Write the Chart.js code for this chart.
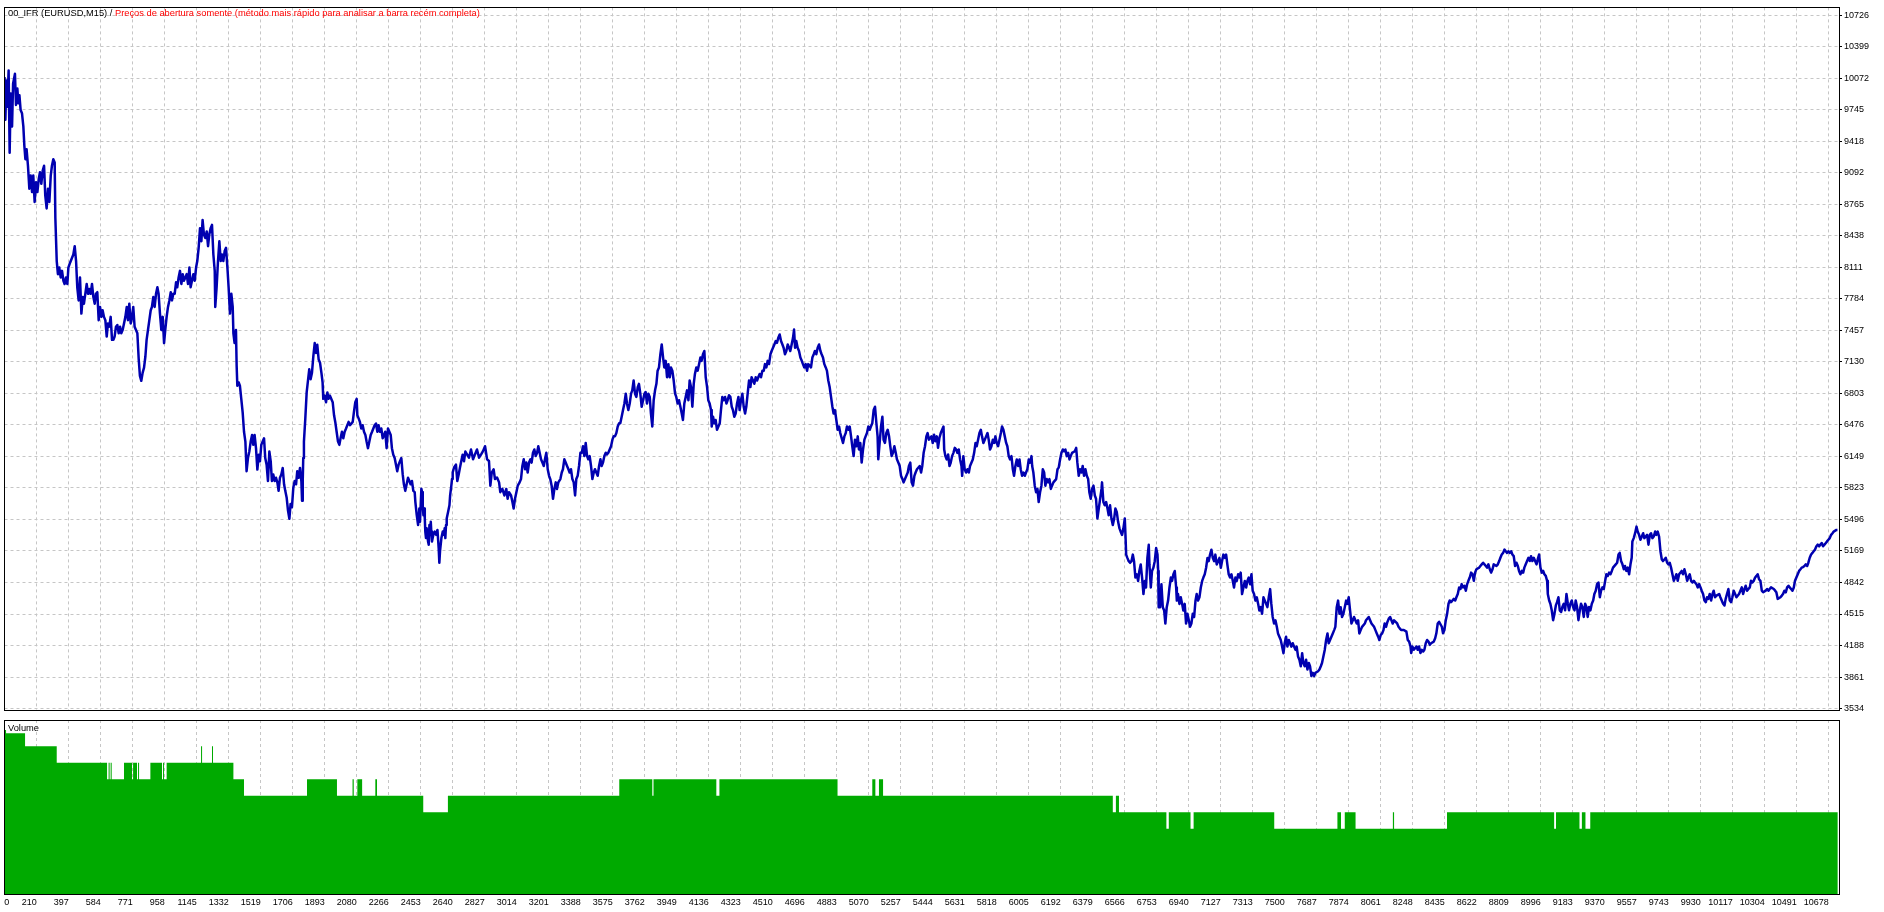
<!DOCTYPE html>
<html>
<head>
<meta charset="utf-8">
<title>00_IFR (EURUSD,M15)</title>
<script src="https://cdn.jsdelivr.net/npm/chart.js@4.4.1/dist/chart.umd.min.js"></script>
<style>
  html, body { margin: 0; padding: 0; background: #fff; }
  #wrap { position: relative; width: 1884px; height: 912px; overflow: hidden; }
  canvas { position: absolute; left: 0; }
  #balanceChart { top: 0; }
  #volumeChart { top: 718px; }
  .lbl { position: absolute; font: 9.3px "Liberation Sans", Arial, sans-serif; line-height: 12px; white-space: nowrap; }
</style>
</head>
<body>
<div id="wrap">
  <canvas id="balanceChart" width="1884" height="718"></canvas>
  <canvas id="volumeChart" width="1884" height="194"></canvas>
  <div class="lbl" style="left:8px;top:7px;"><span style="color:#000">00_IFR (EURUSD,M15) /</span> <span style="color:#ff0000">Preços de abertura somente (método mais rápido para analisar a barra recém completa)</span></div>
  <div class="lbl" style="left:8px;top:722px;color:#000">Volume</div>
</div>
<script>
// x axis labels (trade number)
const xTicks = [0,210,397,584,771,958,1145,1332,1519,1706,1893,2080,2266,2453,2640,2827,3014,3201,3388,3575,
  3762,3949,4136,4323,4510,4696,4883,5070,5257,5444,5631,5818,6005,6192,6379,6566,6753,6940,7127,7313,
  7500,7687,7874,8061,8248,8435,8622,8809,8996,9183,9370,9557,9743,9930,10117,10304,10491,10678];

// balance axis labels
const yTicks = [10726,10399,10072,9745,9418,9092,8765,8438,8111,7784,7457,7130,6803,6476,6149,5823,5496,5169,4842,4515,4188,3861,3534];

// visible ranges
const xRange = [21.9, 10738];
const balanceRange = [3513.5, 10805];
const volumeRange = [0, 0.106];

// balance curve
const tradeNo = [
  22,27,33,38,46,52,58,66,72,83,
  89,97,103,109,116,124,132,138,144,151,
  159,167,175,183,190,198,206,214,222,229,
  237,245,253,260,268,276,284,292,299,307,
  315,319,327,334,342,350,358,366,373,381,
  389,395,405,424,432,440,447,455,463,471,
  479,486,494,502,510,517,525,533,541,549,
  556,564,572,580,588,595,603,611,619,626,
  634,642,650,658,665,673,681,689,697,704,
  712,720,728,736,743,751,759,767,774,782,
  790,798,806,813,821,829,837,845,852,860,
  868,876,883,891,899,907,915,922,930,938,
  946,954,961,969,977,985,993,1000,1008,1016,
  1024,1031,1039,1047,1055,1063,1070,1078,1086,1094,
  1102,1109,1117,1125,1133,1141,1148,1156,1164,1172,
  1179,1187,1195,1203,1211,1218,1226,1234,1242,1250,
  1253,1261,1269,1277,1285,1292,1300,1308,1316,1324,
  1331,1339,1347,1355,1359,1366,1374,1378,1382,1390,
  1397,1405,1413,1421,1429,1436,1444,1452,1460,1468,
  1475,1483,1491,1499,1507,1514,1522,1530,1538,1545,
  1553,1561,1569,1577,1584,1592,1600,1608,1616,1623,
  1631,1639,1647,1655,1662,1670,1678,1686,1693,1701,
  1709,1717,1725,1732,1740,1748,1756,1760,1764,1767,
  1771,1779,1787,1802,1810,1818,1826,1834,1841,1849,
  1857,1865,1873,1880,1884,1892,1900,1908,1915,1923,
  1939,1947,1954,1962,1970,1978,1985,1993,2001,2009,
  2017,2032,2040,2056,2063,2071,2079,2083,2091,2098,
  2106,2114,2122,2130,2137,2145,2161,2169,2184,2192,
  2200,2207,2215,2223,2231,2239,2246,2254,2262,2278,
  2285,2293,2301,2316,2324,2332,2340,2348,2355,2363,
  2371,2379,2387,2394,2402,2410,2418,2422,2430,2438,
  2445,2449,2453,2457,2461,2465,2469,2473,2477,2480,
  2484,2488,2496,2500,2504,2508,2512,2515,2519,2523,
  2527,2535,2543,2551,2558,2562,2566,2574,2582,2589,
  2593,2597,2601,2605,2613,2621,2625,2632,2636,2640,
  2648,2659,2667,2675,2682,2690,2698,2706,2714,2735,
  2747,2759,2770,2782,2794,2806,2817,2829,2841,2852,
  2860,2868,2879,2887,2899,2911,2918,2930,2942,2953,
  2961,2969,2981,2989,2996,3004,3012,3020,3031,3039,
  3047,3055,3063,3070,3078,3086,3094,3101,3109,3117,
  3125,3133,3140,3148,3156,3164,3172,3179,3187,3195,
  3203,3210,3218,3226,3234,3242,3249,3257,3269,3277,
  3284,3292,3300,3308,3316,3323,3331,3339,3347,3355,
  3362,3370,3378,3386,3394,3401,3409,3417,3425,3432,
  3440,3448,3456,3464,3471,3479,3487,3495,3503,3510,
  3518,3526,3534,3541,3549,3557,3565,3573,3580,3588,
  3596,3604,3612,3619,3627,3635,3643,3651,3658,3666,
  3674,3682,3689,3697,3705,3713,3721,3728,3736,3744,
  3752,3760,3767,3775,3783,3791,3798,3806,3814,3822,
  3830,3837,3845,3853,3861,3869,3876,3884,3892,3900,
  3908,3915,3923,3931,3939,3946,3954,3962,3970,3978,
  3985,3993,4001,4009,4017,4024,4032,4040,4048,4055,
  4063,4071,4079,4087,4094,4102,4110,4118,4126,4133,
  4141,4149,4153,4161,4168,4176,4184,4192,4200,4207,
  4215,4223,4231,4239,4246,4254,4262,4270,4277,4285,
  4293,4301,4309,4316,4324,4332,4340,4348,4355,4363,
  4371,4379,4386,4394,4402,4410,4418,4425,4433,4441,
  4449,4457,4464,4472,4480,4488,4496,4503,4511,4519,
  4527,4534,4542,4550,4558,4566,4573,4581,4589,4597,
  4605,4612,4620,4628,4634,4640,4647,4655,4663,4671,
  4679,4686,4694,4702,4710,4717,4733,4741,4749,4756,
  4764,4772,4780,4788,4795,4803,4811,4819,4826,4834,
  4842,4850,4858,4865,4873,4881,4889,4897,4904,4920,
  4928,4936,4943,4951,4959,4967,4974,4982,4990,4998,
  5006,5013,5021,5029,5037,5045,5052,5060,5068,5076,
  5083,5091,5099,5107,5115,5122,5126,5134,5142,5150,
  5157,5165,5173,5181,5189,5196,5204,5212,5220,5228,
  5235,5243,5251,5259,5267,5274,5282,5290,5298,5305,
  5313,5321,5329,5337,5344,5352,5368,5376,5383,5391,
  5399,5407,5414,5422,5437,5444,5452,5460,5468,5475,
  5483,5491,5499,5507,5511,5518,5526,5534,5542,5549,
  5557,5565,5573,5581,5588,5596,5604,5612,5616,5623,
  5631,5639,5647,5655,5662,5670,5678,5686,5694,5701,
  5709,5717,5725,5732,5740,5748,5756,5764,5771,5779,
  5787,5795,5803,5810,5818,5826,5834,5842,5849,5857,
  5865,5873,5880,5888,5896,5904,5912,5919,5927,5935,
  5943,5951,5958,5966,5974,5982,5989,5997,6005,6013,
  6021,6025,6032,6040,6048,6056,6063,6071,6079,6087,
  6095,6102,6110,6118,6126,6134,6141,6149,6165,6173,
  6180,6188,6196,6204,6211,6219,6227,6235,6243,6250,
  6258,6274,6282,6289,6297,6305,6313,6320,6328,6336,
  6344,6352,6359,6367,6375,6383,6391,6398,6406,6414,
  6422,6430,6433,6441,6449,6457,6465,6472,6480,6488,
  6496,6504,6511,6519,6527,6535,6542,6550,6558,6566,
  6570,6574,6581,6589,6597,6605,6613,6620,6628,6636,
  6644,6651,6659,6667,6675,6683,6690,6698,6706,6710,
  6718,6725,6733,6741,6749,6757,6761,6764,6772,6780,
  6788,6796,6803,6811,6819,6827,6835,6842,6850,6858,
  6866,6870,6877,6885,6893,6901,6908,6916,6924,6932,
  6940,6947,6955,6963,6971,6979,6986,6994,7002,7010,
  7018,7025,7033,7041,7049,7056,7064,7072,7080,7088,
  7095,7103,7111,7119,7127,7134,7142,7150,7158,7165,
  7173,7181,7189,7197,7204,7212,7220,7228,7236,7243,
  7251,7259,7267,7275,7282,7290,7298,7306,7313,7321,
  7329,7337,7345,7352,7360,7368,7376,7384,7399,7407,
  7415,7422,7430,7438,7446,7454,7461,7469,7477,7485,
  7493,7500,7508,7516,7524,7532,7539,7547,7555,7563,
  7570,7578,7586,7594,7602,7609,7617,7625,7633,7641,
  7648,7656,7664,7672,7679,7695,7703,7711,7718,7726,
  7734,7742,7750,7757,7765,7773,7781,7789,7796,7804,
  7812,7820,7827,7835,7843,7851,7859,7866,7874,7882,
  7890,7898,7905,7921,7929,7936,7944,7952,7968,7975,
  7991,8007,8022,8030,8038,8046,8053,8061,8069,8077,
  8084,8092,8100,8108,8116,8131,8139,8157,8165,8172,
  8180,8196,8211,8219,8227,8235,8239,8246,8254,8262,
  8270,8277,8285,8293,8301,8309,8316,8324,8332,8340,
  8348,8355,8371,8379,8386,8394,8402,8418,8425,8433,
  8441,8449,8457,8464,8472,8480,8488,8496,8503,8511,
  8519,8527,8534,8542,8550,8558,8566,8573,8581,8589,
  8597,8605,8612,8620,8636,8643,8651,8659,8667,8675,
  8682,8690,8698,8706,8714,8721,8737,8745,8753,8760,
  8768,8776,8784,8791,8799,8807,8815,8823,8830,8838,
  8846,8854,8862,8869,8877,8885,8893,8900,8908,8916,
  8924,8932,8939,8947,8955,8963,8971,8978,8986,8994,
  9002,9010,9017,9025,9033,9037,9045,9052,9060,9068,
  9076,9084,9091,9099,9107,9115,9122,9130,9138,9146,
  9154,9161,9169,9177,9185,9193,9200,9208,9216,9224,
  9231,9239,9247,9255,9263,9270,9278,9286,9294,9302,
  9309,9317,9325,9333,9341,9348,9356,9364,9372,9379,
  9387,9395,9403,9411,9418,9434,9442,9450,9457,9465,
  9473,9481,9488,9496,9504,9512,9520,9527,9531,9539,
  9547,9555,9562,9570,9578,9586,9594,9601,9609,9617,
  9625,9633,9640,9648,9656,9664,9671,9679,9687,9695,
  9703,9710,9718,9726,9734,9742,9749,9757,9765,9773,
  9781,9788,9796,9804,9812,9819,9827,9835,9843,9851,
  9858,9866,9874,9882,9890,9897,9905,9913,9921,9929,
  9936,9944,9952,9960,9967,9975,9983,9991,9999,10006,
  10014,10022,10038,10045,10061,10069,10076,10084,10092,10100,
  10108,10115,10123,10131,10139,10154,10162,10170,10178,10186,
  10193,10201,10209,10217,10224,10232,10240,10248,10256,10263,
  10271,10279,10287,10295,10310,10318,10326,10333,10341,10357,
  10365,10372,10380,10396,10404,10411,10419,10427,10435,10443,
  10450,10458,10466,10474,10481,10489,10497,10505,10513,10520,
  10528,10536,10544,10552,10559,10567,10575,10583,10590,10598,
  10606,10614,10622,10629,10637,10645,10653,10661,10668,10676,
  10684,10692,10700,10707,10723,10729
];

const balance = [
  10082,9640,10048,9776,10150,9299,9912,9571,10014,10116,
  9793,9963,9810,9895,9742,9708,9571,9367,9231,9333,
  9163,8925,9061,8890,9061,8788,8993,8890,9027,9095,
  8976,9112,9163,8856,8720,8925,8788,9061,9163,9231,
  9197,8618,8175,8039,8107,8005,8073,7971,7937,8005,
  7937,8107,8158,8243,8329,8175,7903,7767,8005,7630,
  7801,7733,7835,7937,7835,7886,7835,7937,7801,7733,
  7835,7852,7562,7699,7596,7665,7596,7562,7392,7528,
  7494,7596,7358,7358,7392,7494,7511,7426,7494,7426,
  7460,7528,7596,7699,7562,7733,7528,7596,7699,7494,
  7460,7426,7154,6984,6933,7018,7069,7188,7358,7460,
  7562,7665,7699,7801,7699,7835,7903,7835,7630,7460,
  7596,7324,7460,7596,7699,7767,7852,7767,7835,7835,
  7954,7903,8005,8073,7937,8039,7971,8005,8039,7937,
  8107,7903,7971,8039,7971,8107,8175,8312,8516,8380,
  8601,8448,8414,8482,8329,8448,8516,8550,8243,8073,
  7699,7903,8175,8380,8175,8243,8175,8278,8312,8107,
  7903,7630,7835,7699,7426,7324,7460,7086,6882,6916,
  6882,6746,6609,6405,6303,5996,6132,6200,6303,6371,
  6269,6371,6235,6013,6166,6098,6269,6303,6337,6132,
  6064,5894,6200,6098,5894,5962,5894,5928,5877,5792,
  5928,5962,6030,5860,5792,5724,5588,5502,5656,5622,
  5826,5894,5860,5996,5928,6030,5894,5690,5894,6132,
  6303,6541,6813,7052,6950,7018,7188,7324,7222,7307,
  7154,7120,7018,6916,6746,6779,6711,6813,6746,6779,
  6711,6575,6507,6405,6303,6269,6337,6405,6337,6405,
  6439,6507,6473,6507,6609,6711,6746,6575,6541,6507,
  6439,6473,6405,6371,6303,6235,6371,6405,6473,6490,
  6405,6473,6405,6439,6337,6371,6405,6235,6439,6371,
  6235,6166,6132,5996,6064,6098,6132,5962,5860,5792,
  5860,5928,5894,5860,5894,5792,5779,5676,5540,5438,
  5608,5472,5642,5813,5779,5642,5540,5608,5506,5370,
  5302,5404,5268,5234,5438,5370,5472,5370,5268,5302,
  5336,5370,5336,5387,5200,5046,5166,5302,5370,5336,
  5404,5302,5438,5506,5574,5642,5745,5847,5915,5983,
  6034,6064,5894,5962,6030,6098,6166,6098,6200,6136,
  6221,6119,6170,6221,6136,6170,6204,6255,6119,6102,
  5846,5982,6016,5914,5931,5880,5778,5812,5744,5812,
  5710,5778,5744,5676,5608,5710,5778,5846,5880,5914,
  6050,6119,6016,6085,5982,6085,6119,6085,6187,6221,
  6153,6187,6255,6187,6119,6085,6050,6119,6187,6016,
  5948,5914,5846,5710,5812,5880,5812,5880,5914,5982,
  6016,6119,6085,6050,6016,5982,6016,5914,5880,5744,
  5914,5948,6050,6187,6187,6255,6153,6289,6153,6119,
  6153,6050,5914,5982,6016,5982,5948,6050,6119,6050,
  6085,6153,6187,6170,6187,6221,6255,6323,6357,6357,
  6391,6459,6493,6493,6561,6630,6698,6800,6698,6630,
  6698,6800,6834,6936,6800,6766,6868,6902,6800,6664,
  6732,6800,6817,6698,6800,6766,6595,6459,6732,6834,
  6902,7038,7072,7208,7310,7174,7072,7140,6970,7106,
  6970,7072,7038,6936,6800,6766,6698,6732,6664,6595,
  6527,6698,6766,6834,6732,6936,6868,6664,6902,7004,
  7072,7038,7106,7174,7140,7208,7242,6970,6868,6732,
  6698,6630,6459,6561,6493,6527,6425,6459,6493,6630,
  6766,6732,6766,6698,6732,6783,6766,6664,6630,6561,
  6595,6698,6766,6630,6732,6800,6664,6595,6664,6800,
  6936,6868,6970,6936,6902,6970,6936,6970,7004,6970,
  7038,7038,7106,7072,7140,7106,7208,7242,7276,7310,
  7345,7327,7379,7413,7345,7310,7276,7208,7242,7310,
  7276,7242,7310,7379,7464,7276,7345,7276,7242,7174,
  7140,7106,7072,7106,7038,7106,7072,7174,7208,7242,
  7208,7276,7310,7242,7208,7174,7106,7072,7038,6936,
  6868,6766,6664,6595,6630,6527,6425,6459,6391,6289,
  6357,6391,6459,6425,6459,6357,6255,6153,6323,6255,
  6357,6221,6289,6085,6221,6323,6357,6391,6459,6425,
  6459,6493,6630,6664,6493,6357,6119,6289,6459,6561,
  6323,6289,6391,6425,6357,6255,6153,6187,6255,6187,
  6119,6085,6050,5948,5914,5880,5914,5948,5982,6050,
  6085,5880,5846,5948,5982,6016,6050,5982,6050,6187,
  6255,6357,6391,6323,6357,6289,6374,6306,6357,6238,
  6340,6391,6425,6459,6221,6152,6118,6169,6050,6084,
  6152,6186,6238,6221,6186,6221,6118,6050,5948,6152,
  6016,5982,6016,5982,6050,6084,6118,6186,6289,6255,
  6323,6391,6425,6357,6289,6323,6357,6391,6323,6221,
  6255,6323,6289,6357,6289,6255,6323,6391,6459,6425,
  6357,6289,6255,6152,6118,6152,6016,5948,6050,6118,
  6050,6118,6016,5948,5982,5948,5982,6016,6118,6084,
  6152,6050,5982,5846,5778,5812,5676,5778,5846,6016,
  5982,5846,5914,5880,5914,5812,5846,5880,5914,6016,
  6033,6118,6186,6221,6203,6221,6152,6186,6118,6152,
  6186,6203,6238,6084,5948,6016,5982,6050,5948,6016,
  5948,5914,5778,5710,5812,5846,5744,5710,5505,5608,
  5710,5812,5880,5676,5642,5676,5608,5540,5642,5505,
  5437,5505,5608,5574,5471,5403,5369,5335,5403,5505,
  5335,5131,5097,5063,5046,5063,5131,5063,4893,4927,
  4858,4961,5029,4893,4722,4858,4790,5097,5233,5029,
  4790,4961,4995,5063,5199,5131,4961,4586,4586,4824,
  4586,4552,4416,4586,4654,4790,4893,4858,4927,4961,
  4790,4654,4722,4620,4688,4620,4552,4620,4416,4518,
  4450,4382,4416,4518,4484,4654,4722,4654,4688,4790,
  4858,4893,4927,4995,5097,5063,5131,5182,5097,5063,
  5131,5029,5063,5097,4995,5063,5131,5097,5131,5029,
  4927,4893,4927,4858,4790,4893,4858,4927,4893,4944,
  4722,4790,4858,4790,4858,4893,4824,4927,4756,4722,
  4654,4688,4620,4552,4586,4518,4688,4654,4586,4688,
  4773,4620,4484,4416,4450,4382,4314,4280,4246,4177,
  4109,4212,4280,4177,4246,4212,4177,4212,4177,4143,
  4177,4075,4041,3973,4109,4007,3973,4041,3939,4007,
  3973,3871,3905,3871,3905,3922,3939,3973,4007,4075,
  4143,4246,4314,4212,4246,4280,4314,4348,4382,4586,
  4654,4518,4586,4484,4518,4586,4654,4620,4688,4552,
  4416,4450,4484,4416,4450,4314,4348,4382,4416,4450,
  4484,4416,4382,4348,4314,4280,4246,4297,4314,4348,
  4416,4382,4433,4467,4484,4416,4450,4417,4383,4366,
  4349,4349,4332,4246,4229,4178,4110,4178,4144,4161,
  4178,4144,4178,4110,4144,4127,4144,4212,4246,4229,
  4195,4212,4229,4263,4315,4417,4434,4383,4315,4349,
  4451,4519,4621,4655,4638,4655,4672,4655,4689,4723,
  4791,4774,4825,4791,4808,4757,4825,4859,4893,4944,
  4927,4859,4944,4979,4996,5013,5030,5047,5030,5013,
  4996,5030,4979,4944,4979,5030,5013,5030,5064,5098,
  5132,5149,5183,5166,5149,5166,5149,5166,5132,5115,
  5013,5047,5013,4962,4927,4962,4944,4996,5030,5064,
  5098,5064,5115,5064,5098,5064,5030,5081,5132,4996,
  4944,4962,4927,4910,4859,4723,4655,4621,4553,4451,
  4519,4604,4638,4689,4553,4536,4587,4621,4553,4723,
  4621,4553,4621,4655,4587,4553,4655,4587,4451,4553,
  4621,4587,4485,4621,4587,4485,4587,4553,4621,4655,
  4723,4757,4825,4842,4689,4757,4791,4774,4859,4927,
  4910,4944,4927,4962,4996,5030,5047,5132,5149,5064,
  5030,4979,5013,4962,4996,4927,5030,5098,5268,5302,
  5353,5421,5370,5336,5285,5319,5353,5302,5319,5336,
  5234,5336,5353,5302,5319,5370,5336,5370,5319,5166,
  5081,5064,5081,5098,5047,5030,5047,4996,4927,4859,
  4893,4927,4859,4927,4944,4962,4927,4979,4927,4859,
  4893,4927,4859,4842,4859,4842,4825,4791,4825,4791,
  4757,4723,4655,4638,4689,4672,4723,4655,4723,4757,
  4689,4706,4723,4689,4621,4604,4672,4723,4774,4655,
  4638,4689,4757,4723,4689,4723,4757,4791,4723,4774,
  4808,4757,4774,4791,4859,4842,4859,4893,4910,4927,
  4876,4859,4757,4740,4757,4774,4757,4774,4791,4774,
  4757,4740,4672,4689,4706,4723,4757,4740,4791,4808,
  4791,4774,4757,4791,4859,4893,4927,4962,4979,4996,
  5002,5013,5030,5013,5047,5098,5132,5149,5166,5183,
  5217,5234,5217,5234,5251,5217,5234,5251,5268,5285,
  5302,5336,5353,5370,5387,5387
];

// volume (lots): each value holds from its trade number up to the next one
const volTradeNo = [22,31,142,327,621,630,636,642,648,720,767,773,796,802,808,874,942,948,954,969,
  1170,1176,1234,1240,1359,1421,1789,1964,2055,2062,2083,2111,2188,2198,2468,2612,3613,3806,3813,4180,
  4198,4888,5091,5109,5130,5154,6496,6514,6532,6809,6823,6950,6968,7439,7808,7829,7851,7914,8132,8139,
  8448,9074,9085,9222,9236,9257,9285,10731];
const volLots = [0.1,0.098,0.09,0.08,0.07,0.08,0.07,0.08,0.07,0.08,0.07,0.08,0.07,0.08,0.07,0.08,0.07,0.08,0.07,0.08,
  0.09,0.08,0.09,0.08,0.07,0.06,0.07,0.06,0.07,0.06,0.07,0.06,0.07,0.06,0.05,0.06,0.07,0.06,0.07,0.06,
  0.07,0.06,0.07,0.06,0.07,0.06,0.05,0.06,0.05,0.04,0.05,0.04,0.05,0.04,0.05,0.04,0.05,0.04,0.05,0.04,
  0.05,0.04,0.05,0.04,0.05,0.04,0.05,0.05];

const gridColor = '#c6c6c6';
const font = { family: '"Liberation Sans", Arial, sans-serif', size: 9 };

// black frame round each pane
const frame = {
  id: 'frame',
  afterDraw(chart) {
    const { ctx, chartArea: a } = chart;
    const l = Math.floor(a.left) + 0.5, t = Math.floor(a.top) + 0.5;
    const r = Math.floor(a.right) + 0.5, b = Math.floor(a.bottom) + 0.5;
    ctx.save();
    ctx.strokeStyle = '#000';
    ctx.lineWidth = 1;
    ctx.strokeRect(l, t, r - l, b - t);
    ctx.restore();
  }
};

function xScale(withLabels) {
  return {
    type: 'linear',
    min: xRange[0],
    max: xRange[1],
    afterBuildTicks(scale) {
      const vals = withLabels ? xTicks : xTicks.slice(1);
      // the "0" label sits against the left edge
      scale.ticks = vals.map(v => ({ value: v < scale.min ? scale.min + 28 : v }));
    },
    afterFit(scale) {
      scale.height = withLabels ? 17.5 : 0;
      scale.paddingLeft = 0;
      scale.paddingRight = 0;
    },
    ticks: {
      display: withLabels,
      autoSkip: false,
      maxRotation: 0,
      minRotation: 0,
      align: 'end',
      padding: 3,
      color: '#000',
      font: font,
      callback: (v, i) => withLabels ? String(xTicks[i]) : ''
    },
    grid: {
      color: c => (withLabels && c.index === 0) ? 'rgba(0,0,0,0)' : gridColor,
      drawTicks: false,
      lineWidth: 1
    },
    border: { display: false, dash: [3, 3] }
  };
}

const common = {
  responsive: false,
  animation: false,
  events: [],
  plugins: { legend: { display: false }, tooltip: { enabled: false } }
};

new Chart(document.getElementById('balanceChart'), {
  type: 'line',
  data: {
    datasets: [{
      label: 'Balance',
      data: tradeNo.map((x, i) => ({ x: x, y: balance[i] })),
      borderColor: '#0000b0',
      borderWidth: 2.5,
      borderJoinStyle: 'round',
      pointRadius: 0,
      tension: 0
    }]
  },
  options: Object.assign({}, common, {
    layout: { padding: { left: 4.5, top: 4.5, right: 0, bottom: 1 } },
    scales: {
      x: xScale(false),
      y: {
        position: 'right',
        min: balanceRange[0],
        max: balanceRange[1],
        afterBuildTicks(scale) { scale.ticks = yTicks.map(v => ({ value: v })); },
        afterFit(scale) { scale.width = 45; },
        ticks: { color: '#000', font: font, padding: 2, callback: v => String(v) },
        grid: { color: gridColor, tickColor: '#000', tickLength: 3, drawTicks: true },
        border: { display: false, dash: [3, 3] }
      }
    }
  }),
  plugins: [frame]
});

new Chart(document.getElementById('volumeChart'), {
  type: 'line',
  data: {
    datasets: [{
      label: 'Volume',
      data: volTradeNo.map((x, i) => ({ x: x, y: volLots[i] })),
      stepped: 'before',
      fill: 'origin',
      backgroundColor: '#00aa00',
      borderColor: '#00aa00',
      borderWidth: 0,
      pointRadius: 0
    }]
  },
  options: Object.assign({}, common, {
    layout: { padding: { left: 4.5, top: 2, right: 45, bottom: 0 } },
    scales: {
      x: xScale(true),
      y: { display: false, min: volumeRange[0], max: volumeRange[1] }
    }
  }),
  plugins: [frame]
});
</script>
</body>
</html>
